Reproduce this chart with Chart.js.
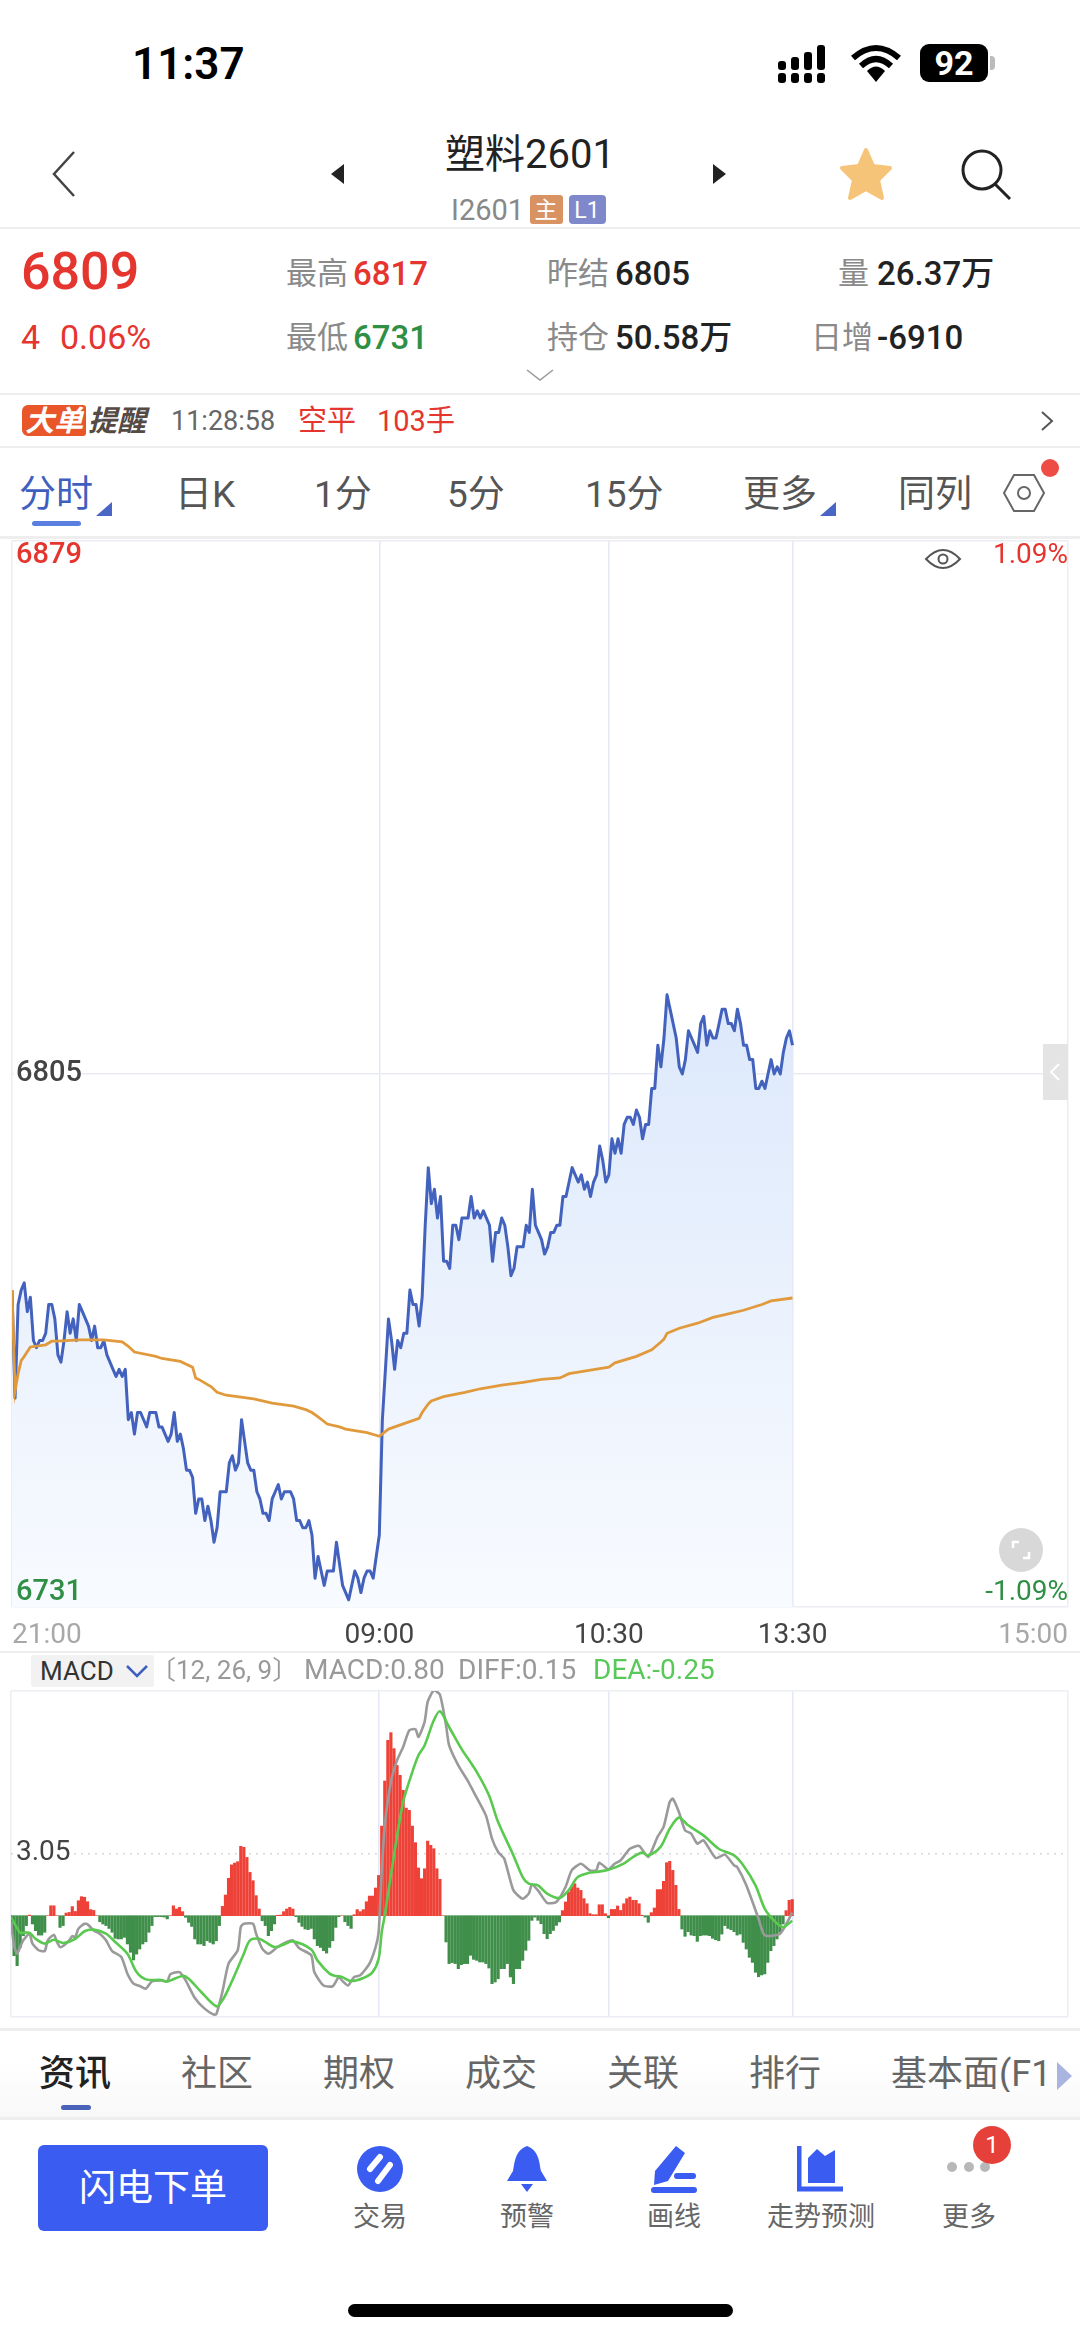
<!DOCTYPE html>
<html>
<head>
<meta charset="utf-8">
<title>塑料2601</title>
<script src="https://cdn.jsdelivr.net/npm/chart.js@4"></script>
<style>
  html, body { margin: 0; padding: 0; background: #fff; }
  body { position: relative; width: 1080px; height: 2337px; overflow: hidden; font-family: Roboto, "Noto Sans CJK SC", sans-serif; }
  .t { position: absolute; white-space: nowrap; line-height: 1; transform: translateY(-50%); }
  .c { transform: translate(-50%, -50%); }
  .sep { position: absolute; left: 0; width: 1080px; background: #eeeeee; }
  .ic { position: absolute; }
  canvas { position: absolute; left: 0; }
  .grey { color: #8a8a8a; }
  .red { color: #e5352f; }
  .green { color: #2f8f45; }
  .dark { color: #222; }
  .hd { font-size: 31px; }
  .num { font-size: 33px; font-weight: 500; }
  .tab { font-size: 37px; color: #555; }
  .sub { font-size: 36px; color: #666; }
  .act { font-size: 27px; color: #666; }
</style>
</head>
<body>

<!-- status bar -->
<div class="t" style="left:132px;top:64px;font-size:44px;font-weight:600;color:#000">11:37</div>
<svg class="ic" style="left:776px;top:42px" width="60" height="42">
  <g fill="#000">
    <rect x="2" y="19" width="8" height="9" rx="3"/><rect x="2" y="31" width="8" height="10" rx="3"/>
    <rect x="15" y="15" width="8" height="13" rx="3"/><rect x="15" y="31" width="8" height="10" rx="3"/>
    <rect x="28" y="10" width="8" height="18" rx="3"/><rect x="28" y="31" width="8" height="10" rx="3"/>
    <rect x="41" y="3" width="8" height="25" rx="3"/><rect x="41" y="31" width="8" height="10" rx="3"/>
  </g>
</svg>
<svg class="ic" style="left:850px;top:44px" width="52" height="40" viewBox="0 0 52 40">
  <g fill="none" stroke="#000" stroke-width="6"><path d="M3 14 Q26 -6 49 14"/><path d="M11 22 Q26 8 41 22"/></g>
  <path d="M17 27 Q26 18 35 27 L26 38 Z" fill="#000"/>
</svg>
<div class="ic" style="left:920px;top:44px;width:68px;height:38px;background:#000;border-radius:9px"></div>
<div class="t c" style="left:954px;top:63px;font-size:34px;font-weight:700;color:#fff">92</div>
<div class="ic" style="left:990px;top:56px;width:5px;height:14px;background:#bbb;border-radius:0 4px 4px 0"></div>

<!-- nav -->
<svg class="ic" style="left:48px;top:148px" width="32" height="52"><path d="M26 4 L6 26 L26 48" fill="none" stroke="#444" stroke-width="2.5"/></svg>
<svg class="ic" style="left:329px;top:162px" width="18" height="24"><path d="M15 2 V22 L2 12 Z" fill="#222"/></svg>
<div class="t c" style="left:530px;top:155px;font-size:40px;color:#222">塑料2601</div>
<svg class="ic" style="left:710px;top:162px" width="18" height="24"><path d="M3 2 V22 L16 12 Z" fill="#222"/></svg>
<svg class="ic" style="left:838px;top:146px" width="56" height="56" viewBox="0 0 56 56">
  <path d="M28 4 L35 20 L52 22 L40 34 L44 52 L28 43 L12 52 L16 34 L4 22 L21 20 Z" fill="#f6c478" stroke="#f6c478" stroke-width="4" stroke-linejoin="round"/>
</svg>
<svg class="ic" style="left:958px;top:146px" width="58" height="56"><circle cx="24" cy="24" r="19" fill="none" stroke="#222" stroke-width="3"/><path d="M37 38 L52 53" stroke="#222" stroke-width="3"/></svg>
<div class="t" style="left:451px;top:210px;font-size:29px;color:#888">I2601</div>
<div class="ic" style="left:530px;top:195px;width:33px;height:29px;background:#d99262;border-radius:3px"></div>
<div class="t c" style="left:546px;top:210px;font-size:23px;color:#fff">主</div>
<div class="ic" style="left:569px;top:195px;width:37px;height:29px;background:#8088cc;border-radius:4px"></div>
<div class="t c" style="left:587px;top:210px;font-size:23px;color:#fff">L1</div>
<div class="sep" style="top:227px;height:2px"></div>

<!-- quote -->
<div class="t red" style="left:21px;top:272px;font-size:52px;font-weight:500">6809</div>
<div class="t grey hd" style="left:286px;top:273px">最高</div>
<div class="t red num" style="left:353px;top:273px">6817</div>
<div class="t grey hd" style="left:547px;top:273px">昨结</div>
<div class="t dark num" style="left:615px;top:273px">6805</div>
<div class="t grey hd" style="left:838px;top:273px">量</div>
<div class="t dark num" style="left:877px;top:273px">26.37万</div>
<div class="t red" style="left:21px;top:337px;font-size:34px">4</div>
<div class="t red" style="left:60px;top:337px;font-size:34px">0.06%</div>
<div class="t grey hd" style="left:286px;top:337px">最低</div>
<div class="t green num" style="left:353px;top:337px">6731</div>
<div class="t grey hd" style="left:547px;top:337px">持仓</div>
<div class="t dark num" style="left:615px;top:337px">50.58万</div>
<div class="t grey hd" style="left:811px;top:337px">日增</div>
<div class="t dark num" style="left:877px;top:337px">-6910</div>
<svg class="ic" style="left:526px;top:368px" width="28" height="14"><path d="M1 2 L14 12 L27 2" fill="none" stroke="#999" stroke-width="1.5"/></svg>
<div class="sep" style="top:393px;height:2px"></div>

<!-- big order alert -->
<div class="ic" style="left:22px;top:405px;width:64px;height:31px;background:#e8562a;border-radius:6px 3px 3px 6px"></div>
<div class="t c" style="left:54px;top:421px;font-size:29px;font-weight:700;font-style:italic;color:#fff">大单</div>
<div class="t" style="left:88px;top:421px;font-size:29px;font-weight:700;font-style:italic;color:#554a44">提醒</div>
<div class="t" style="left:171px;top:421px;font-size:27px;color:#666">11:28:58</div>
<div class="t red" style="left:298px;top:421px;font-size:29px">空平</div>
<div class="t red" style="left:377px;top:421px;font-size:29px">103手</div>
<svg class="ic" style="left:1039px;top:410px" width="16" height="22"><path d="M3 2 L13 11 L3 20" fill="none" stroke="#555" stroke-width="2"/></svg>
<div class="sep" style="top:446px;height:2px"></div>

<!-- period tabs -->
<div class="t tab" style="left:19px;top:494px;color:#3f5fbf">分时</div>
<svg class="ic" style="left:96px;top:502px" width="16" height="14"><path d="M16 0 V14 H0 Z" fill="#4a66c4"/></svg>
<div class="ic" style="left:32px;top:521px;width:49px;height:5px;background:#5b7fe0;border-radius:3px"></div>
<div class="t tab" style="left:175px;top:494px">日K</div>
<div class="t tab" style="left:314px;top:494px">1分</div>
<div class="t tab" style="left:447px;top:494px">5分</div>
<div class="t tab" style="left:585px;top:494px">15分</div>
<div class="t tab" style="left:743px;top:494px">更多</div>
<svg class="ic" style="left:820px;top:502px" width="16" height="14"><path d="M16 0 V14 H0 Z" fill="#4a66c4"/></svg>
<div class="t tab" style="left:898px;top:494px">同列</div>
<svg class="ic" style="left:1002px;top:472px" width="44" height="42" viewBox="0 0 44 42">
  <path d="M12 3 H32 L42 21 L32 39 H12 L2 21 Z" fill="none" stroke="#666" stroke-width="2"/><circle cx="22" cy="21" r="6" fill="none" stroke="#666" stroke-width="2"/>
</svg>
<div class="ic" style="left:1041px;top:459px;width:18px;height:18px;background:#ee4d45;border-radius:50%"></div>
<div class="sep" style="top:536px;height:3px"></div>

<!-- charts -->
<canvas id="priceChart" width="1080" height="1120" style="top:530px;width:1080px;height:1120px"></canvas>
<canvas id="macdChart" width="1080" height="345" style="top:1680px;width:1080px;height:345px"></canvas>

<!-- price chart overlays -->
<svg class="ic" style="left:924px;top:547px" width="38" height="24"><path d="M2 12 Q19 -6 36 12 Q19 30 2 12 Z" fill="none" stroke="#555" stroke-width="2"/><circle cx="19" cy="12" r="4.5" fill="none" stroke="#555" stroke-width="2"/></svg>
<div class="ic" style="left:999px;top:1528px;width:44px;height:44px;border-radius:50%;background:#d8d8d8"></div>
<svg class="ic" style="left:1009px;top:1538px" width="24" height="24"><path d="M4 10 V4 H10 M20 14 V20 H14" fill="none" stroke="#fff" stroke-width="2.5"/></svg>
<div class="ic" style="left:1043px;top:1044px;width:25px;height:56px;background:#e4e4e4"></div>
<svg class="ic" style="left:1049px;top:1062px" width="12" height="20"><path d="M10 2 L2 10 L10 18" fill="none" stroke="#fff" stroke-width="2"/></svg>

<!-- macd header -->
<div class="sep" style="top:1651px;height:2px"></div>
<div class="ic" style="left:31px;top:1655px;width:123px;height:32px;background:#f2f2f2;border-radius:2px"></div>
<div class="t" style="left:40px;top:1671px;font-size:26px;color:#333">MACD</div>
<svg class="ic" style="left:125px;top:1664px" width="24" height="14"><path d="M2 2 L12 12 L22 2" fill="none" stroke="#3f5fbf" stroke-width="2.5"/></svg>
<div class="t" style="left:150px;top:1670px;font-size:26px;color:#999">〔12, 26, 9〕</div>
<div class="t" style="left:304px;top:1670px;font-size:28px;color:#999">MACD:0.80</div>
<div class="t" style="left:458px;top:1670px;font-size:28px;color:#999">DIFF:0.15</div>
<div class="t" style="left:593px;top:1670px;font-size:28px;color:#58c858">DEA:-0.25</div>
<div class="sep" style="top:2028px;height:3px"></div>

<!-- bottom tabs -->
<div class="ic" style="left:0;top:2058px;width:1080px;height:60px;background:linear-gradient(#fff,#f8f8f8)"></div>
<div class="t sub" style="left:39px;top:2074px;color:#222;font-weight:500">资讯</div>
<div class="t sub" style="left:181px;top:2074px">社区</div>
<div class="t sub" style="left:323px;top:2074px">期权</div>
<div class="t sub" style="left:465px;top:2074px">成交</div>
<div class="t sub" style="left:607px;top:2074px">关联</div>
<div class="t sub" style="left:749px;top:2074px">排行</div>
<div class="t sub" style="left:891px;top:2074px;width:164px;overflow:hidden">基本面(F1</div>
<svg class="ic" style="left:1057px;top:2062px" width="16" height="28"><path d="M0 0 V28 L15 14 Z" fill="#aab4e0"/></svg>
<div class="ic" style="left:61px;top:2105px;width:30px;height:5px;background:#4a63b8;border-radius:3px"></div>
<div class="sep" style="top:2117px;height:3px"></div>

<!-- action bar -->
<div class="ic" style="left:38px;top:2145px;width:230px;height:86px;background:#3a5cf0;border-radius:6px"></div>
<div class="t c" style="left:153px;top:2188px;font-size:37px;color:#fff">闪电下单</div>
<svg class="ic" style="left:356px;top:2145px" width="48" height="48"><circle cx="24" cy="24" r="23" fill="#3a5cf0"/><path d="M14 24 L24 12 M22 36 L34 20" stroke="#fff" stroke-width="6" stroke-linecap="round"/></svg>
<div class="t c act" style="left:380px;top:2217px">交易</div>
<svg class="ic" style="left:505px;top:2145px" width="44" height="48"><path d="M22 1 C10 6 10 16 8 26 L2 36 H42 L36 26 C34 16 34 6 22 1 Z M16 39 H28 L22 47 Z" fill="#3a5cf0"/></svg>
<div class="t c act" style="left:527px;top:2217px">预警</div>
<svg class="ic" style="left:650px;top:2145px" width="48" height="48"><path d="M26 1 L35 8 L18 36 L4 40 L5 26 Z" fill="#3a5cf0"/><rect x="24" y="28" width="22" height="6" rx="3" fill="#3a5cf0"/><rect x="1" y="42" width="46" height="6" rx="3" fill="#3a5cf0"/></svg>
<div class="t c act" style="left:674px;top:2217px">画线</div>
<svg class="ic" style="left:797px;top:2146px" width="48" height="46"><path d="M2 0 V43 H46" fill="none" stroke="#3a5cf0" stroke-width="5"/><path d="M11 37 V12 L20 3 L28 10 L38 4 V37 Z" fill="#3a5cf0"/></svg>
<div class="t c act" style="left:821px;top:2217px">走势预测</div>
<svg class="ic" style="left:945px;top:2159px" width="48" height="16"><g fill="#b8b8b8"><circle cx="7" cy="8" r="5"/><circle cx="24" cy="8" r="5"/><circle cx="40" cy="8" r="5"/></g></svg>
<div class="ic" style="left:973px;top:2126px;width:38px;height:38px;background:#e5403a;border-radius:50%"></div>
<div class="t c" style="left:992px;top:2145px;font-size:24px;color:#fff">1</div>
<div class="t c act" style="left:969px;top:2217px">更多</div>
<div class="ic" style="left:348px;top:2304px;width:385px;height:13px;background:#000;border-radius:7px"></div>

<script>
// session minutes on the axis: 21:00-23:00, 09:00-10:15, 10:30-11:30, 13:30-15:00
const sessionMinutes = 345;
const xTickMinutes = [0, 120, 195, 255, 345];
const xTickLabels = ['21:00', '09:00', '10:30', '13:30', '15:00'];
const xTickColors = ['#a8a8a8', '#444', '#444', '#444', '#a8a8a8'];

const priceBase = 6805;
const priceTicks = [6731, 6805, 6879];
const percentLabels = ['-1.09%', '', '1.09%'];

// one value a minute, from the open
const priceValues = [
  6775, 6760, 6773, 6775, 6776, 6772, 6774, 6768, 6767, 6768,
  6768, 6769, 6773, 6773, 6771, 6766, 6765, 6768, 6772, 6769,
  6771, 6768, 6773, 6772, 6771, 6770, 6768, 6770, 6767, 6767,
  6768, 6766, 6765, 6764, 6763, 6764, 6763, 6764, 6757, 6758,
  6755, 6758, 6758, 6757, 6756, 6758, 6758, 6758, 6756, 6756,
  6755, 6754, 6755, 6758, 6754, 6755, 6753, 6750, 6750, 6749,
  6744, 6746, 6746, 6743, 6745, 6743, 6740, 6742, 6747, 6747,
  6747, 6751, 6752, 6750, 6751, 6757, 6754, 6751, 6750, 6750,
  6747, 6746, 6744, 6744, 6743, 6746, 6747, 6748, 6746, 6747,
  6747, 6747, 6746, 6743, 6743, 6742, 6742, 6743, 6741, 6735,
  6738, 6736, 6734, 6736, 6736, 6736, 6740, 6737, 6734, 6733,
  6732, 6734, 6736, 6735, 6733, 6735, 6736, 6736, 6735, 6738,
  6741, 6757, 6764, 6771, 6768, 6764, 6768, 6767, 6769, 6769,
  6775, 6773, 6773, 6770, 6774, 6784, 6792, 6787, 6789, 6785,
  6788, 6779, 6779, 6778, 6784, 6784, 6782, 6785, 6785, 6785,
  6788, 6785, 6786, 6785, 6786, 6785, 6784, 6779, 6783, 6783,
  6785, 6784, 6781, 6777, 6778, 6781, 6781, 6781, 6784, 6783,
  6789, 6784, 6783, 6782, 6780, 6781, 6783, 6783, 6784, 6784,
  6788, 6788, 6790, 6792, 6791, 6790, 6791, 6789, 6790, 6788,
  6790, 6791, 6795, 6793, 6790, 6791, 6796, 6794, 6796, 6794,
  6798, 6799, 6799, 6798, 6800, 6799, 6796, 6798, 6798, 6803,
  6803, 6809, 6806, 6810, 6816, 6814, 6812, 6810, 6806, 6805,
  6807, 6811, 6810, 6809, 6808, 6812, 6813, 6809, 6811, 6810,
  6810, 6812, 6814, 6814, 6812, 6812, 6811, 6814, 6812, 6809,
  6809, 6807, 6807, 6803, 6803, 6804, 6803, 6805, 6807, 6805,
  6806, 6805, 6808, 6810, 6811, 6809,
];

const avgMinutes = [
  0, 1, 2, 3, 4, 6, 11, 13, 15, 22, 30, 36, 38, 40, 47, 49, 55, 59, 60, 61,
  65, 67, 70, 79, 85, 92, 96, 98, 100, 103, 107, 109, 116, 120, 123, 133, 134, 136, 137, 141,
  148, 153, 160, 167, 173, 179, 182, 192, 195, 197, 204, 209, 212, 213, 214, 218, 224, 229, 233, 239,
  245, 248, 255,
];
const avgValues = [
  6775, 6761, 6763.4, 6765.2, 6765.8, 6767.1, 6767.4, 6767.9, 6767.9, 6768.1,
  6768.1, 6767.8, 6767.2, 6766.4, 6765.8, 6765.5, 6765.1, 6764.3, 6762.8, 6762.6,
  6761.6, 6760.8, 6760.4, 6759.9, 6759.3, 6758.9, 6758.4, 6758, 6757.4, 6756.4,
  6756, 6755.7, 6755.2, 6754.7, 6755.7, 6757.2, 6758, 6759.2, 6759.6, 6760.2,
  6760.8, 6761.3, 6761.8, 6762.2, 6762.6, 6762.8, 6763.4, 6764.1, 6764.3, 6764.9,
  6765.8, 6766.7, 6767.8, 6768.2, 6769, 6769.7, 6770.4, 6771.2, 6771.6, 6772.2,
  6773, 6773.5, 6773.9,
];

const macdTicks = [-5.01, 3.05, 11.11];
const macdValues = [
  -0.58, -1.98, -2.47, -1.57, -0.99, -0.49, 0.03, -0.41, -0.74, -0.96,
  -0.96, -0.82, 0, 0.49, 0.49, 0, -0.58, -0.49, 0.13, 0.16,
  0.45, 0.21, 0.74, 0.94, 0.91, 0.69, 0.30, 0.26, 0, -0.30,
  -0.41, -0.49, -0.63, -0.82, -1.12, -1.15, -1.15, -1.07, -1.40, -1.81,
  -2.19, -1.90, -1.65, -1.40, -1.29, -0.82, -0.49, -0.05, -0.05, -0.05,
  -0.07, -0.16, 0, 0.49, 0.33, 0.41, 0.20, -0.08, -0.33, -0.53,
  -1.15, -1.40, -1.40, -1.48, -1.24, -1.32, -1.40, -1.24, -0.49, 0.46,
  1.02, 1.85, 2.51, 2.60, 2.67, 3.43, 3.38, 2.88, 2.14, 1.73,
  0.99, 0.33, -0.25, -0.49, -0.99, -0.74, -0.41, 0.02, 0.03, 0.20,
  0.33, 0.41, 0.33, -0.05, -0.33, -0.53, -0.66, -0.69, -0.63, -1.15,
  -1.48, -1.57, -1.73, -1.85, -1.57, -1.24, -0.58, -0.05, 0, -0.30,
  -0.49, -0.63, 0.05, 0.30, 0.20, 0.30, 0.69, 0.97, 0.97, 1.37,
  1.99, 4.43, 6.66, 8.67, 9.05, 8.26, 7.43, 6.94, 6.20, 5.32,
  5.21, 4.43, 3.61, 2.36, 1.83, 2.32, 3.69, 3.48, 3.31, 2.32,
  1.80, 0, -1.30, -2.37, -2.32, -2.37, -2.62, -2.42, -2.37, -2.37,
  -1.96, -2.16, -2.21, -2.29, -2.29, -2.37, -2.59, -3.36, -3.28, -3.12,
  -2.62, -2.62, -2.37, -3.03, -3.36, -2.62, -2.62, -2.21, -1.71, -1.22,
  -0.23, -0.07, -0.23, -0.40, -0.89, -1.14, -0.89, -0.73, -0.48, -0.31,
  0.25, 0.68, 1.17, 1.42, 1.58, 1.37, 1.25, 0.84, 0.59, 0.10,
  0.05, 0.05, 0.54, 0.54, 0.10, -0.10, 0.31, 0.31, 0.48, 0.26,
  0.59, 0.84, 0.92, 0.76, 0.76, 0.59, 0.02, -0.07, -0.33, 0.15,
  0.38, 1.29, 1.29, 1.70, 2.62, 2.69, 2.24, 1.50, 0.31, -0.66,
  -1.02, -0.79, -0.96, -0.99, -1.27, -0.99, -0.96, -0.96, -0.99, -1.12,
  -1.19, -1.24, -0.91, -0.49, -0.63, -0.69, -0.79, -0.96, -0.91, -1.32,
  -1.65, -2.06, -2.31, -2.80, -3.02, -2.93, -2.88, -2.31, -1.73, -1.48,
  -1.15, -0.82, -0.41, 0.25, 0.76, 0.80,
];

const diffMinutes = [
  0, 1, 2, 3, 4, 6, 7, 9, 11, 12, 14, 15, 16, 17, 19, 20, 21, 22, 24, 25,
  27, 29, 31, 33, 36, 38, 40, 42, 44, 46, 49, 51, 52, 55, 57, 60, 63, 66, 67, 69,
  71, 74, 75, 76, 79, 80, 82, 84, 87, 90, 92, 94, 98, 99, 102, 105, 107, 108, 110, 112,
  114, 117, 119, 120, 121, 122, 124, 126, 128, 130, 132, 133, 135, 136, 138, 140, 142, 143, 146, 149,
  151, 155, 157, 159, 161, 164, 167, 169, 170, 172, 175, 178, 181, 183, 186, 189, 191, 192, 195, 197,
  199, 202, 205, 208, 211, 213, 215, 216, 218, 220, 222, 224, 226, 230, 233, 236, 237, 240, 244, 246,
  251, 255,
];
const diffValues = [
  -0.31, -1.47, -1.88, -1.55, -1.22, -0.89, -1.38, -1.71, -1.75, -1.22, -0.94, -1.30, -1.55, -1.50, -1.22, -1.01, -1.06, -0.64, -0.40, -0.43,
  -0.73, -0.89, -1.22, -1.75, -2.04, -2.87, -3.36, -3.48, -3.61, -3.25, -3.20, -3.25, -2.90, -2.79, -3.20, -4.07, -4.57, -4.88, -4.88, -3.77,
  -2.37, -1.71, -0.56, -0.40, -0.40, -0.89, -1.63, -1.88, -1.55, -1.30, -1.22, -1.60, -1.96, -2.79, -3.45, -3.49, -3.03, -3.20, -3.45, -3.03,
  -2.95, -2.37, -1.55, -0.81, 2.16, 4.47, 6.61, 7.68, 8.34, 9.17, 9.22, 8.84, 9.58, 10.57, 11.14, 10.93, 9.41, 8.42, 7.43, 6.69,
  6.12, 4.96, 3.81, 3.15, 2.82, 1.25, 0.84, 1.09, 1.53, 1.25, 0.63, 0.68, 1.42, 2.24, 2.57, 2.24, 2.24, 2.62, 2.29, 2.57,
  2.74, 3.31, 3.45, 2.90, 3.89, 4.39, 5.62, 5.79, 5.13, 4.22, 4.06, 3.56, 3.73, 2.85, 3.02, 2.49, 2.41, 1.50, -0.15, -0.97,
  -0.89, 0.15,
];

const deaMinutes = [
  0, 2, 3, 6, 8, 11, 14, 17, 21, 24, 27, 31, 34, 38, 41, 44, 49, 51, 56, 58,
  62, 67, 69, 72, 76, 78, 81, 83, 86, 89, 92, 98, 100, 104, 106, 108, 111, 115, 118, 120,
  121, 122, 125, 128, 131, 133, 135, 138, 140, 143, 147, 152, 156, 159, 164, 167, 169, 172, 175, 179,
  182, 185, 189, 191, 195, 200, 203, 206, 208, 212, 215, 218, 221, 226, 231, 236, 239, 243, 246, 249,
  252, 255,
];
const deaValues = [
  -0.07, -0.61, -0.84, -0.84, -1.14, -1.38, -1.19, -1.35, -1.14, -0.77, -0.69, -0.89, -1.30, -1.88, -2.79, -3.15, -3.18, -3.25, -2.98, -3.12,
  -3.76, -4.48, -4.19, -3.28, -1.88, -1.22, -1.14, -1.30, -1.55, -1.43, -1.27, -1.67, -2.21, -2.87, -2.98, -3.03, -3.23, -3.08, -2.79, -2.13,
  -0.81, 0.02, 2.98, 5.62, 7.11, 7.93, 8.42, 9.66, 10.11, 9.33, 8.26, 7.11, 5.95, 4.63, 2.98, 1.91, 1.58, 1.50, 1.09, 0.87,
  1.25, 1.91, 2.13, 2.16, 2.27, 2.57, 2.90, 3.12, 2.98, 3.40, 4.30, 4.85, 4.47, 3.97, 3.31, 2.98, 2.49, 1.50, 0.35, -0.23,
  -0.56, -0.25,
];

const gridColor = '#e4e8f4';
const frameColor = '#eceef3';

function pairs(xs, ys) {
  return ys.map((y, i) => ({ x: xs ? xs[i] : i, y }));
}

function xAxis(showTicks) {
  return {
    type: 'linear',
    offset: false,
    min: 0,
    max: sessionMinutes,
    afterBuildTicks: (scale) => { scale.ticks = xTickMinutes.map(value => ({ value })); },
    afterFit: showTicks ? (scale) => { scale.height = 43; } : undefined,
    border: { display: false },
    grid: { offset: false, color: (ctx) => (ctx.index === 0 || ctx.index === 4) ? frameColor : gridColor, lineWidth: 1.5, drawTicks: false },
    ticks: {
      display: showTicks,
      autoSkip: false,
      maxRotation: 0,
      align: 'inner',
      padding: 12,
      font: { family: 'Roboto', size: 28 },
      color: (ctx) => xTickColors[ctx.index],
      callback: (value, i) => xTickLabels[i],
    },
  };
}

// labels sit inside the plot, so they get drawn here with a bit of offset at the edges
const priceLabelPlugin = {
  id: 'priceLabels',
  afterDraw(chart) {
    const { ctx, scales: { y }, chartArea } = chart;
    ctx.save();
    ctx.font = '500 29px Roboto';
    ctx.textBaseline = 'middle';
    priceTicks.forEach((tick, i) => {
      let py = y.getPixelForValue(tick);
      if (i === 0) py -= 14;
      if (i === 2) py += 15;
      if (i === 1) {
        ctx.fillStyle = '#fff';
        ctx.fillRect(chartArea.left + 2, py - 6, 66, 12);
      }
      ctx.textAlign = 'left';
      ctx.fillStyle = ['#2f8f45', '#444', '#e5352f'][i];
      ctx.fillText(tick, chartArea.left + 4, py);
      if (percentLabels[i]) {
        ctx.textAlign = 'right';
        ctx.font = '28px Roboto';
        ctx.fillText(percentLabels[i], chartArea.right, py);
        ctx.font = '500 29px Roboto';
      }
    });
    ctx.restore();
  },
};

const macdLabelPlugin = {
  id: 'macdLabel',
  afterDraw(chart) {
    const { ctx, scales: { y }, chartArea } = chart;
    const py = y.getPixelForValue(macdTicks[1]);
    ctx.save();
    ctx.fillStyle = '#fff';
    ctx.fillRect(chartArea.left + 2, py - 4, 58, 8);
    ctx.font = '28px Roboto';
    ctx.textBaseline = 'middle';
    ctx.fillStyle = '#444';
    ctx.fillText(macdTicks[1], chartArea.left + 5, py - 1);
    ctx.restore();
  },
};

function priceGradient(context) {
  const { chart } = context;
  if (!chart.chartArea) return '#eaf1fd';
  const y = chart.scales.y;
  const g = chart.ctx.createLinearGradient(0, y.getPixelForValue(Math.max(...priceValues)), 0, chart.chartArea.bottom);
  g.addColorStop(0, '#dce8fb');
  g.addColorStop(1, '#f8fbff');
  return g;
}

new Chart(document.getElementById('priceChart'), {
  type: 'line',
  data: {
    datasets: [
      {
        label: '均价',
        data: pairs(avgMinutes, avgValues),
        borderColor: '#e09a3c',
        borderWidth: 2.8,
        pointRadius: 0,
        fill: false,
        order: 1,
      },
      {
        label: '价格',
        data: pairs(null, priceValues),
        borderColor: '#4362bd',
        borderWidth: 3,
        pointRadius: 0,
        borderJoinStyle: 'round',
        fill: 'start',
        backgroundColor: priceGradient,
        order: 2,
      },
    ],
  },
  options: {
    responsive: false,
    animation: false,
    layout: { padding: { left: 11, right: 12, top: 11, bottom: 0 } },
    plugins: { legend: { display: false }, tooltip: { enabled: false } },
    scales: {
      x: xAxis(true),
      y: {
        min: priceTicks[0],
        max: priceTicks[2],
        afterBuildTicks: (scale) => { scale.ticks = priceTicks.map(value => ({ value })); },
        border: { display: false },
        grid: { color: (ctx) => ctx.index === 1 ? '#e9ebf2' : frameColor, lineWidth: 1.5, drawTicks: false },
        ticks: { display: false },
      },
    },
  },
  plugins: [priceLabelPlugin],
});

new Chart(document.getElementById('macdChart'), {
  data: {
    datasets: [
      {
        type: 'line',
        label: 'DEA',
        data: pairs(deaMinutes, deaValues),
        borderColor: '#5ac94f',
        borderWidth: 2.6,
        pointRadius: 0,
        tension: 0.3,
        order: 1,
      },
      {
        type: 'line',
        label: 'DIFF',
        data: pairs(diffMinutes, diffValues),
        borderColor: '#9a9a9a',
        borderWidth: 2.6,
        pointRadius: 0,
        tension: 0.2,
        order: 2,
      },
      {
        type: 'bar',
        label: 'MACD',
        data: pairs(null, macdValues),
        backgroundColor: macdValues.map(v => v >= 0 ? '#ee4238' : '#3f8f4a'),
        barThickness: 2.5,
        order: 3,
      },
    ],
  },
  options: {
    responsive: false,
    animation: false,
    layout: { padding: { left: 11, right: 12, top: 11, bottom: 8 } },
    plugins: { legend: { display: false }, tooltip: { enabled: false } },
    scales: {
      x: xAxis(false),
      y: {
        min: macdTicks[0],
        max: macdTicks[2],
        afterBuildTicks: (scale) => { scale.ticks = macdTicks.map(value => ({ value })); },
        border: { display: false, dash: (ctx) => ctx.index === 1 ? [2, 5] : [] },
        grid: { color: (ctx) => ctx.index === 1 ? '#d8d8d8' : frameColor, lineWidth: 1.5, drawTicks: false },
        ticks: { display: false },
      },
    },
  },
  plugins: [macdLabelPlugin],
});
</script>
</body>
</html>
